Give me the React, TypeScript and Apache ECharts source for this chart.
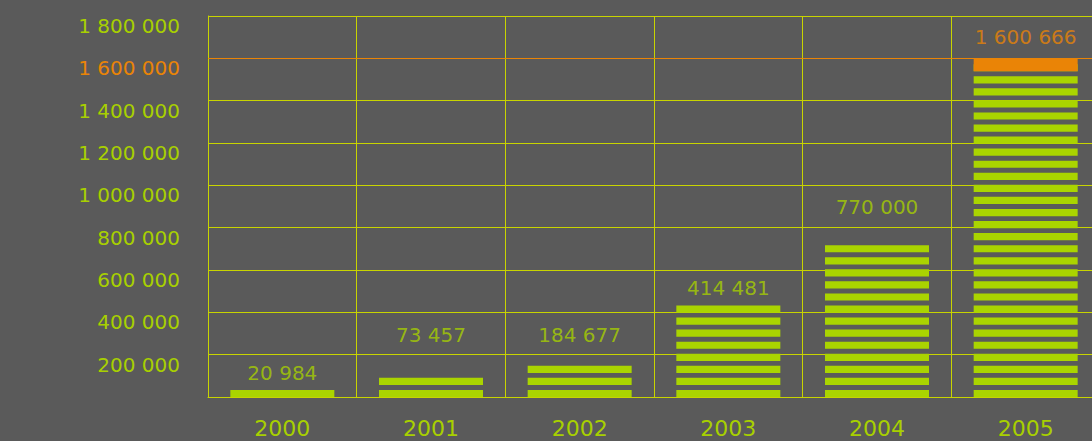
import React, { useEffect, useRef } from "react";
import * as echarts from "echarts";

// ---- data ----
const years = ["2000", "2001", "2002", "2003", "2004", "2005"];
// values shown as labels
const values = [20984, 73457, 184677, 414481, 770000, 1600666];
// heights reached by the striped bars
const barLevels = [28000, 85000, 142000, 427000, 712000, 1545000];
// value levels at which the value labels are centred
const labelLevels = [115000, 295000, 295000, 515000, 900000, 1700000];
// y axis
const yMin = 0;
const yMax = 1800000;
const yStep = 200000;
const highlightTick = 1600000;

const GREEN = "#aad400";
const LABEL_GREEN = "#a8d000";
const ORANGE = "#ea8406";
const BG = "#5a5a5a";
const GRID = "#c8d400";
const FONT = "DejaVu Sans";

const fmt = (v: number) =>
  String(Math.round(v)).replace(/\B(?=(\d{3})+(?!\d))/g, " ");

export default function App() {
  const ref = useRef<HTMLDivElement>(null);
  useEffect(() => {
    if (!ref.current) return;
    document.documentElement.style.overflow = "hidden";
    document.body.style.overflow = "hidden";
    document.body.style.margin = "0";
    document.body.style.background = BG;
    const chart = echarts.init(ref.current, null, { renderer: "svg" });
    const maxVal = Math.max(...values);
    const maxIdx = values.indexOf(maxVal);
    chart.setOption({
      animation: false,
      backgroundColor: BG,
      grid: { left: 208, top: 16, right: 0, bottom: 44, containLabel: false },
      xAxis: {
        type: "category",
        data: years,
        boundaryGap: true,
        axisLine: { show: true, lineStyle: { color: GRID, width: 1 } },
        axisTick: { show: false },
        axisLabel: {
          color: LABEL_GREEN,
          fontFamily: FONT,
          fontSize: 22,
          margin: 20,
        },
        splitLine: { show: true, lineStyle: { color: GRID, width: 1 } },
      },
      yAxis: {
        type: "value",
        min: yMin,
        max: yMax,
        interval: yStep,
        axisLine: { show: true, lineStyle: { color: GRID, width: 1 } },
        axisTick: { show: false },
        axisLabel: {
          margin: 28,
          fontFamily: FONT,
          fontSize: 20,
          verticalAlign: "top",
          formatter: (v: number) => (v === 0 ? "" : fmt(v)),
          color: (v: any) => (Number(v) === highlightTick ? ORANGE : LABEL_GREEN),
        },
        splitLine: { show: true, lineStyle: { color: GRID, width: 1 } },
      },
      series: [
        {
          type: "pictorialBar",
          name: "stripes",
          data: barLevels,
          symbol: "rect",
          symbolRepeat: true,
          symbolSize: [104, 7],
          symbolMargin: 2.6,
          symbolBoundingData: yMax,
          itemStyle: { color: GREEN },
          z: 2,
          silent: true,
        },
        {
          type: "pictorialBar",
          name: "top",
          data: values.map((v, i) => (i === maxIdx ? v : "-")),
          symbol: "rect",
          symbolSize: [104, 13],
          symbolPosition: "end",
          itemStyle: { color: ORANGE },
          z: 3,
          silent: true,
          markLine: {
            silent: true,
            symbol: "none",
            label: { show: false },
            lineStyle: { color: ORANGE, width: 1, type: "solid" },
            data: [{ yAxis: maxVal }],
          },
        },
        {
          type: "scatter",
          name: "labels",
          data: labelLevels.map((v, i) =>
            i === maxIdx ? { value: v, label: { color: ORANGE } } : v
          ),
          symbolSize: 1,
          itemStyle: { color: "transparent" },
          z: 4,
          silent: true,
          label: {
            show: true,
            position: "inside",
            fontFamily: FONT,
            fontSize: 20,
            formatter: (p: any) => fmt(values[p.dataIndex]),
            color: LABEL_GREEN,
          },
          labelLayout: { hideOverlap: false },
        },
      ],
    });
    return () => chart.dispose();
  }, []);
  return (
    <div
      ref={ref}
      style={{ position: "absolute", left: 0, top: 0, width: 1100, height: 441 }}
    />
  );
}
